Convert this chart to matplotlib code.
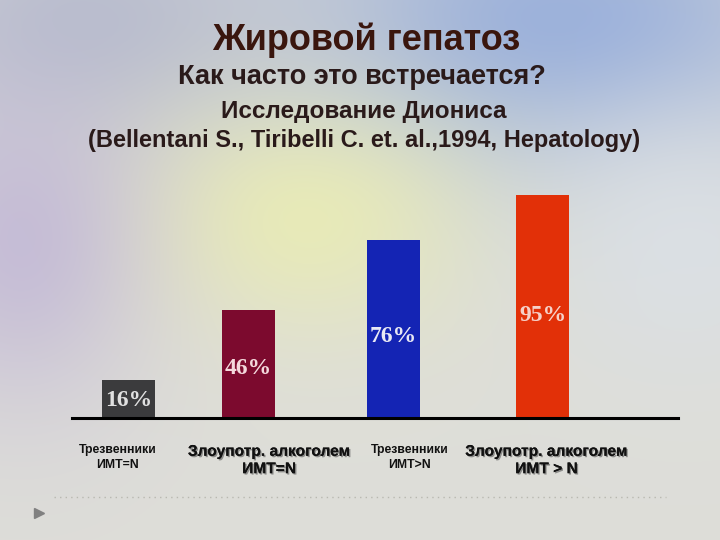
import numpy as np
import matplotlib
matplotlib.use("Agg")
import matplotlib.pyplot as plt
import matplotlib.patheffects as pe

# data
groups = ["Трезвенники\nИМТ=N", "Злоупотр. алкоголем\nИМТ=N",
          "Трезвенники\nИМТ>N", "Злоупотр. алкоголем\nИМТ > N"]
values = [16, 46, 76, 95]
value_labels = ["16%", "46%", "76%", "95%"]
bar_colors = ["#3b3b3d", "#7c0a2e", "#1424b4", "#e23008"]
text_colors = ["#e0e0e0", "#f4d8dc", "#e8e8f4", "#f6d0c8"]

plt.rcParams['font.family'] = ['Liberation Sans', 'DejaVu Sans']

fig = plt.figure(figsize=(7.2, 5.4), dpi=100)

# slide background
bg = fig.add_axes([0, 0, 1, 1])
h, w = 540, 720
yy, xx = np.mgrid[0:h, 0:w] / np.array([h, w])[:, None, None]
def blob(cx, cy, sx, sy):
    return np.exp(-(((xx - cx) / sx) ** 2 + ((yy - cy) / sy) ** 2))
base = np.array([0.87, 0.87, 0.85])
img = np.ones((h, w, 3)) * base
layers = [
    (blob(0.78, 0.05, 0.38, 0.28), np.array([0.56, 0.66, 0.86])),
    (blob(0.12, 0.05, 0.30, 0.25), np.array([0.70, 0.72, 0.80])),
    (blob(0.42, 0.40, 0.25, 0.22), np.array([0.92, 0.93, 0.70])),
    (blob(0.03, 0.45, 0.18, 0.30), np.array([0.76, 0.72, 0.84])),
    (blob(0.95, 0.45, 0.20, 0.25), np.array([0.86, 0.88, 0.90])),
]
for m, c in layers:
    img = img * (1 - 0.85 * m[..., None]) + c * 0.85 * m[..., None]
bg.imshow(img, aspect="auto", extent=[0, 1, 0, 1], origin="upper")
bg.set_xlim(0, 1)
bg.set_ylim(0, 1)
bg.axis("off")

# titles
fig.text(0.508, 0.926, "Жировой гепатоз", ha="center", va="center",
         fontsize=26, fontweight="bold", color="#3a160e")
fig.text(0.502, 0.857, "Как часто это встречается?", ha="center", va="center",
         fontsize=19.5, fontweight="bold", color="#2a1a1a")
fig.text(0.505, 0.794, "Исследование Диониса", ha="center", va="center",
         fontsize=17.5, fontweight="bold", color="#2a1a1a")
fig.text(0.505, 0.740, "(Bellentani S., Tiribelli C. et. al.,1994, Hepatology)",
         ha="center", va="center", fontsize=17, fontweight="bold", color="#2a1a1a")

# bar chart, baseline at y=418 px
ax = fig.add_axes([0.10, 1 - 418 / 540, 0.842, 234.5 / 540])
ax.patch.set_alpha(0)
x_pos = [0, 1, 2.21, 3.45]
ax.bar(x_pos, values, width=0.44, color=bar_colors, zorder=2)
ax.set_xlim(-0.47, 4.58)
ax.set_ylim(0, 100)
for x, v, lab, tc in zip(x_pos, values, value_labels, text_colors):
    ax.text(x, v * 0.46, lab, ha="center", va="center", color=tc,
            fontsize=17, fontweight="bold", family=["Liberation Serif", "DejaVu Serif"])
for s in ["top", "right", "left"]:
    ax.spines[s].set_visible(False)
ax.spines["bottom"].set_linewidth(2.2)
ax.spines["bottom"].set_color("black")
ax.set_yticks([])
ax.set_xticks(x_pos)
ax.set_xticklabels([])
ax.tick_params(axis="x", length=0)

label_sizes = [8.8, 11.2, 8.8, 11.2]
label_offsets = [-0.09, 0.17, 0.13, 0.03]
for x, g, fs, off in zip(x_pos, groups, label_sizes, label_offsets):
    t = ax.text(x + off, -11, g, ha="center", va="top", fontsize=fs,
                fontweight="bold", color="#111111",
                linespacing=1.2 if fs > 9 else 1.35)
    if fs > 9:
        t.set_path_effects([pe.withSimplePatchShadow(offset=(1, -1), shadow_rgbFace="#555555", alpha=0.6),
                            pe.Normal()])

# dotted slide line and bullet
bg.plot([0.075, 0.925], [1 - 497 / 540] * 2, color="#b8b8b0", lw=1, ls=(0, (1, 3)))
bg.plot([0.054], [1 - 513 / 540], marker=">", color="#808080", markersize=7)

fig.savefig("out.png", dpi=100)
